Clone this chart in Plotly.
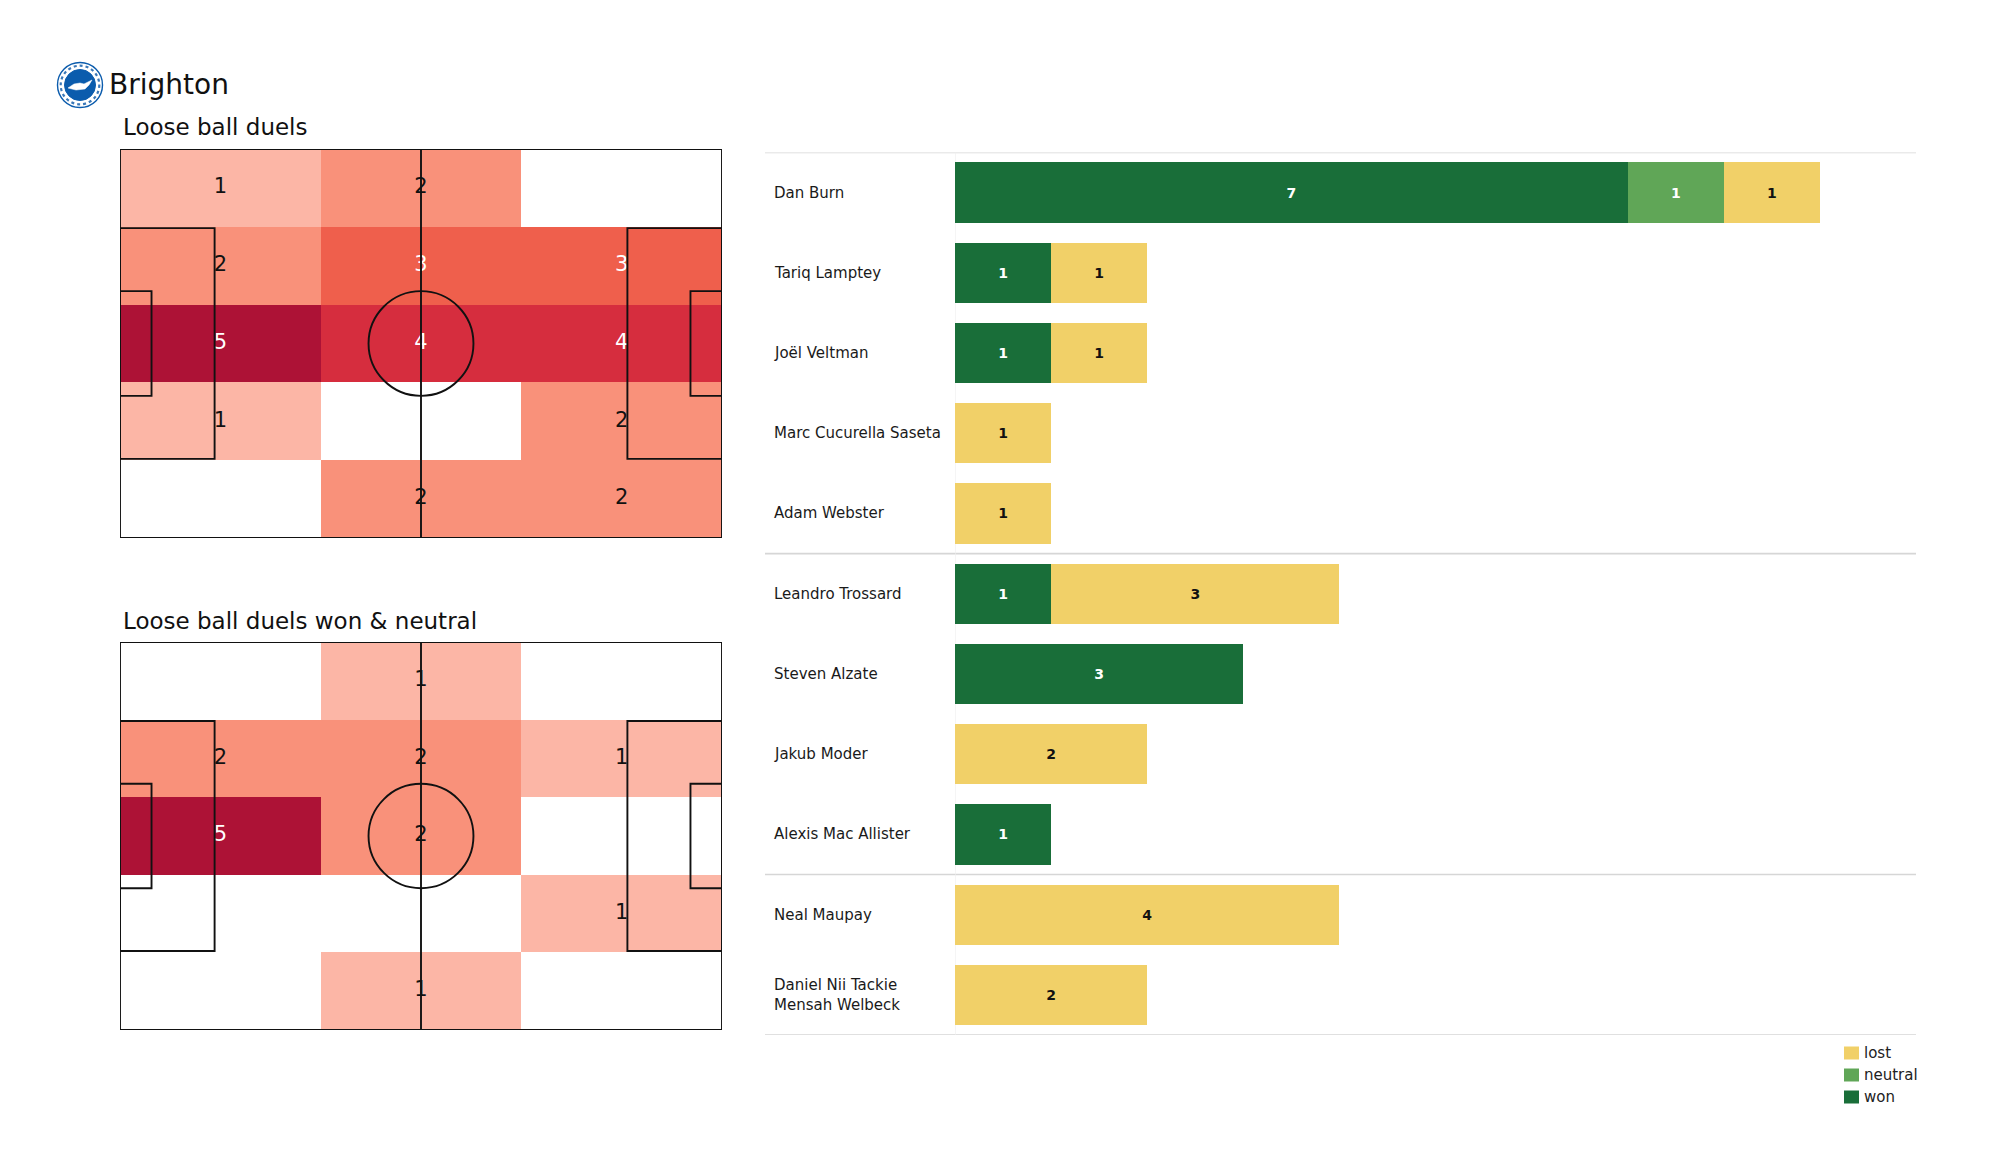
import numpy as np
import plotly.graph_objects as go

W, H = 2000, 1175

# ---------------- data ----------------
team = "Brighton"
title_top = "Loose ball duels"
title_bottom = "Loose ball duels won & neutral"

# heatmap counts, rows top->bottom, columns left->right (3 x 5 grid)
duels_all = [
    [1, 2, 0],
    [2, 3, 3],
    [5, 4, 4],
    [1, 0, 2],
    [0, 2, 2],
]
duels_won_neutral = [
    [0, 1, 0],
    [2, 2, 1],
    [5, 2, 0],
    [0, 0, 1],
    [0, 1, 0],
]

players = [
    "Dan Burn", "Tariq Lamptey", "Joël Veltman", "Marc Cucurella Saseta",
    "Adam Webster", "Leandro Trossard", "Steven Alzate", "Jakub Moder",
    "Alexis Mac Allister", "Neal Maupay", "Daniel Nii Tackie<br>Mensah Welbeck",
]
won = [7, 1, 1, 0, 0, 1, 3, 0, 1, 0, 0]
neutral = [1, 0, 0, 0, 0, 0, 0, 0, 0, 0, 0]
lost = [1, 1, 1, 1, 1, 3, 0, 2, 0, 4, 2]
series_names = ["won", "neutral", "lost"]
series_colors = ["#196e39", "#60a657", "#f1d068"]
series_text_colors = ["white", "white", "#111111"]
group_breaks = [4.5, 8.5]   # separators between position groups

# ---------------- helpers ----------------
def px(x):
    return x / W

def py(y):
    return 1 - y / H

PITCH_L, PITCH_W = 105.0, 68.0
heat_colors = ["#ffffff", "#fcb6a6", "#f9917a", "#ef5f4c", "#d62d3e", "#ad1236"]
cs = []
n = len(heat_colors)
for i, c in enumerate(heat_colors):
    cs.append([i / n, c])
    cs.append([(i + 1) / n, c])

FONT = "DejaVu Sans"
fig = go.Figure()

shapes = []
annotations = []


def add_pitch(counts, xa, ya):
    counts = np.array(counts)
    nr, nc = counts.shape
    xc = (np.arange(nc) + 0.5) * PITCH_L / nc
    yc = (np.arange(nr) + 0.5) * PITCH_W / nr
    fig.add_trace(go.Heatmap(
        z=counts, x=xc, y=yc, colorscale=cs, zmin=-0.5, zmax=len(heat_colors) - 0.5,
        showscale=False, hoverinfo="skip", xaxis=xa, yaxis=ya, xgap=0, ygap=0))
    X, Y = np.meshgrid(xc, yc)
    for light in (False, True):
        mask = (counts > 0) & ((counts >= 3) == light)
        fig.add_trace(go.Scatter(
            x=X[mask], y=Y[mask], mode="text", text=[str(v) for v in counts[mask]],
            textfont=dict(family=FONT, size=21, color="white" if light else "#111111"),
            hoverinfo="skip", showlegend=False, xaxis=xa, yaxis=ya))
    xr, yr = xa, ya
    line = dict(color="#111111", width=1.9)
    L, Wd = PITCH_L, PITCH_W
    pb_w, pb_h = 16.5, 40.32
    sb_w, sb_h = 5.5, 18.32
    r = 9.15
    shp = [
        dict(type="rect", x0=0, x1=L, y0=0, y1=Wd),
        dict(type="line", x0=L / 2, x1=L / 2, y0=0, y1=Wd),
        dict(type="circle", x0=L / 2 - r, x1=L / 2 + r, y0=Wd / 2 - r, y1=Wd / 2 + r),
        dict(type="rect", x0=0, x1=pb_w, y0=(Wd - pb_h) / 2, y1=(Wd + pb_h) / 2),
        dict(type="rect", x0=L - pb_w, x1=L, y0=(Wd - pb_h) / 2, y1=(Wd + pb_h) / 2),
        dict(type="rect", x0=0, x1=sb_w, y0=(Wd - sb_h) / 2, y1=(Wd + sb_h) / 2),
        dict(type="rect", x0=L - sb_w, x1=L, y0=(Wd - sb_h) / 2, y1=(Wd + sb_h) / 2),
    ]
    for s in shp:
        s.update(xref=xr, yref=yr, line=line, layer="above", fillcolor="rgba(0,0,0,0)")
        shapes.append(s)


add_pitch(duels_all, "x", "y")
add_pitch(duels_won_neutral, "x2", "y2")

# ---------------- bars ----------------
vals = [won, neutral, lost]
for name, v, col, tc in zip(series_names, vals, series_colors, series_text_colors):
    fig.add_trace(go.Bar(
        y=players, x=v, orientation="h", name=name, marker=dict(color=col, line=dict(width=0)),
        width=0.75, text=[str(a) if a > 0 else "" for a in v], textposition="inside",
        insidetextanchor="middle", textangle=0,
        textfont=dict(family=FONT, size=14, color=tc, weight="bold"),
        hoverinfo="skip", showlegend=False, xaxis="x3", yaxis="y3"))

for p in players:
    annotations.append(dict(
        xref="paper", yref="y3", x=px(772), y=p, text=p, showarrow=False,
        xanchor="left", yanchor="middle", align="left",
        font=dict(family=FONT, size=15, color="#1a1a1a")))

# separators
for yv in [-0.5] + group_breaks + [len(players) - 0.5]:
    shapes.append(dict(type="line", xref="paper", yref="y3", x0=px(765), x1=px(1916),
                       y0=yv, y1=yv, line=dict(color="#d6d6d6", width=1.6), layer="below"))
shapes.append(dict(type="line", xref="x3", yref="y3", x0=0, x1=0, y0=-0.5,
                   y1=len(players) - 0.5, line=dict(color="#eeeeee", width=1.2), layer="below"))

# legend (manual)
leg_y = [1053, 1075, 1097]
for (name, col), yy in zip(list(zip(series_names, series_colors))[::-1], leg_y):
    shapes.append(dict(type="rect", xref="paper", yref="paper", x0=px(1844), x1=px(1859),
                       y0=py(yy - 6.5), y1=py(yy + 6.5), fillcolor=col, line=dict(width=0)))
    annotations.append(dict(xref="paper", yref="paper", x=px(1862), y=py(yy), text=name,
                            showarrow=False, xanchor="left", yanchor="middle",
                            font=dict(family=FONT, size=15, color="#222222")))

# ---------------- titles ----------------
annotations.append(dict(xref="paper", yref="paper", x=px(107), y=py(84), text=team,
                        showarrow=False, xanchor="left", yanchor="middle",
                        font=dict(family=FONT, size=28, color="#111111")))
annotations.append(dict(xref="paper", yref="paper", x=px(121), y=py(127), text=title_top,
                        showarrow=False, xanchor="left", yanchor="middle",
                        font=dict(family=FONT, size=23, color="#111111")))
annotations.append(dict(xref="paper", yref="paper", x=px(121), y=py(621), text=title_bottom,
                        showarrow=False, xanchor="left", yanchor="middle",
                        font=dict(family=FONT, size=23, color="#111111")))

# ---------------- logo ----------------
cx, cy = 80, 85
def circ(r, **kw):
    d = dict(type="circle", xref="paper", yref="paper", x0=px(cx - r), x1=px(cx + r),
             y0=py(cy + r), y1=py(cy - r))
    d.update(kw)
    return d
shapes.append(circ(22.5, fillcolor="white", line=dict(color="#0b5cad", width=1.4), layer="above"))
shapes.append(circ(19.3, fillcolor="rgba(0,0,0,0)", line=dict(color="#3a78b8", width=2.2, dash="dot"), layer="above"))
shapes.append(circ(15.5, fillcolor="#0b5cad", line=dict(color="#0b5cad", width=1), layer="above"))
gull = [(-12, 3), (-6, -1), (0, -2), (4, -1), (12, -5), (9, 0), (5, 4), (-4, 5)]
path = "M " + " L ".join(f"{px(cx + a):.5f},{py(cy + b):.5f}" for a, b in gull) + " Z"
shapes.append(dict(type="path", xref="paper", yref="paper", path=path, fillcolor="white",
                   line=dict(color="white", width=0.5), layer="above"))

# ---------------- layout ----------------
pitch_x = [px(120), px(722)]
ax_off = dict(visible=False, showgrid=False, zeroline=False, fixedrange=True)
fig.update_layout(
    width=W, height=H, margin=dict(l=0, r=0, t=0, b=0),
    paper_bgcolor="white", plot_bgcolor="white", barmode="stack", showlegend=False,
    xaxis=dict(domain=pitch_x, range=[0, PITCH_L], **ax_off),
    yaxis=dict(domain=[py(538), py(149)], range=[PITCH_W, 0], **ax_off),
    xaxis2=dict(domain=pitch_x, range=[0, PITCH_L], **ax_off),
    yaxis2=dict(domain=[py(1030), py(642)], range=[PITCH_W, 0], **ax_off),
    xaxis3=dict(domain=[px(955), px(1916)], range=[0, 10], **ax_off),
    yaxis3=dict(domain=[py(1035), py(152.4)], type="category", categoryorder="array",
                categoryarray=players, range=[len(players) - 0.5, -0.5], **ax_off),
    shapes=shapes, annotations=annotations,
    font=dict(family=FONT),
)

fig.write_html("out.html")
